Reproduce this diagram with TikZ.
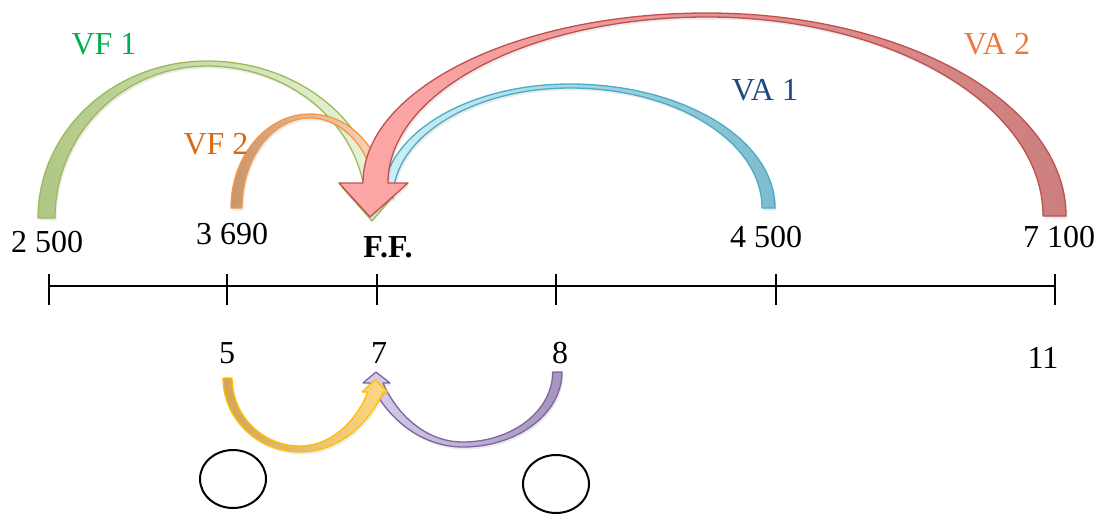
\documentclass[tikz,border=0pt]{standalone}
\usepackage{fontspec}
\setmainfont{Liberation Serif}
\usetikzlibrary{shadows,shapes.geometric}
\definecolor{gB}{HTML}{9BBB59}\definecolor{gD}{HTML}{AFC784}\definecolor{gL}{HTML}{EAF4DA}
\definecolor{oB}{HTML}{F79646}\definecolor{oD}{HTML}{C9956A}\definecolor{oL}{HTML}{FDD9BC}
\definecolor{bB}{HTML}{4BACC6}\definecolor{bD}{HTML}{7DBCCE}\definecolor{bL}{HTML}{CDEFF8}
\definecolor{rB}{HTML}{C0504D}\definecolor{rD}{HTML}{CC7F7E}\definecolor{rL}{HTML}{FFA8A8}
\definecolor{yB}{HTML}{FFC000}\definecolor{yD}{HTML}{D2A458}\definecolor{yL}{HTML}{FFD785}
\definecolor{pB}{HTML}{8064A2}\definecolor{pD}{HTML}{A494BE}\definecolor{pL}{HTML}{D8CFE8}
\definecolor{tVF1}{HTML}{00B050}\definecolor{tVF2}{HTML}{D9690E}
\definecolor{tVA1}{HTML}{1F497D}\definecolor{tVA2}{HTML}{EC763C}
\begin{document}
\begin{tikzpicture}[x=1pt,y=-1pt,
  band/.style={line width=1.3pt, line join=round,
    drop shadow={opacity=0.16, shadow xshift=1.5pt, shadow yshift=-2.5pt}},
  lbl/.style={font=\fontsize{32}{36}\selectfont, inner sep=0pt},
  tick/.style={line width=2pt},
  circ/.style={draw, ellipse, line width=2pt, minimum width=66pt, minimum height=58pt, inner sep=0pt}]
\useasboundingbox (0,0) rectangle (1102,514);

% ---- VF 1 (green)
\path[band, draw=gB, left color=gD, right color=gL]
  (38,218) arc[start angle=180,end angle=270,x radius=169,y radius=157]
  arc[start angle=270,end angle=360,x radius=173,y radius=149]
  -- (366,210) arc[start angle=360,end angle=270,x radius=159,y radius=144]
  arc[start angle=270,end angle=180,x radius=152,y radius=152] -- cycle;
\path[draw=gB, fill=gL, line width=1.3pt, line join=round] (342,187) -- (401,187) -- (372,221) -- cycle;

% ---- VF 2 (orange)
\path[band, draw=oB, left color=oD, right color=oL]
  (231,208) arc[start angle=180,end angle=270,x radius=79,y radius=94]
  arc[start angle=270,end angle=360,x radius=76,y radius=88]
  -- (376,202) arc[start angle=360,end angle=270,x radius=66,y radius=84]
  arc[start angle=270,end angle=180,x radius=68,y radius=90] -- cycle;

% ---- VA 1 (blue)
\path[band, draw=bB, left color=bL, right color=bD]
  (775,208) arc[start angle=0,end angle=-90,x radius=205,y radius=124]
  arc[start angle=-90,end angle=-180,x radius=187,y radius=114]
  -- (393,198) arc[start angle=-180,end angle=-90,x radius=177,y radius=110]
  arc[start angle=-90,end angle=0,x radius=192,y radius=120] -- cycle;

% ---- VA 2 (red, with the big head)
\path[band, draw=rB, left color=rL, right color=rD]
  (1066,216) arc[start angle=0,end angle=-90,x radius=359,y radius=203]
  arc[start angle=-90,end angle=-180,x radius=344,y radius=170]
  -- (339,183) -- (370,217) -- (408,183) -- (388,183)
  arc[start angle=-180,end angle=-90,x radius=319,y radius=166]
  arc[start angle=-90,end angle=0,x radius=336,y radius=199] -- cycle;

% ---- bottom arrows
\path[band, draw=pB, left color=pL, right color=pD]
  (562,372) arc[start angle=0,end angle=90,x radius=99,y radius=75]
  arc[start angle=90,end angle=150,x radius=107,y radius=128]
  -- (363,383) -- (376,372) -- (390,383) -- (383,383)
  arc[start angle=150,end angle=90,x radius=92,y radius=118]
  arc[start angle=90,end angle=0,x radius=90,y radius=70] -- cycle;
\path[band, draw=yB, left color=yD, right color=yL]
  (223,378) arc[start angle=180,end angle=90,x radius=77,y radius=74]
  arc[start angle=90,end angle=30,x radius=96,y radius=120]
  -- (388,392) -- (375,380) -- (362,392) -- (368,392)
  arc[start angle=30,end angle=90,x radius=78.5,y radius=108]
  arc[start angle=90,end angle=180,x radius=68,y radius=68] -- cycle;

% ---- labels of arrows
\node[lbl, text=tVF1] (vf1) at (104,44) {VF 1};
\node[lbl, text=tVF2] (vf2) at (216,144) {VF 2};
\node[lbl, text=tVA1] (va1) at (765,90) {VA 1};
\node[lbl, text=tVA2] (va2) at (997,44) {VA 2};

% ---- amounts
\node[lbl] (a1) at (47,242) {2 500};
\node[lbl] (a2) at (232,234) {3 690};
\node[lbl, font=\fontsize{32}{36}\selectfont\bfseries] (ff) at (388,247) {F.F.};
\node[lbl] (a4) at (766,237) {4 500};
\node[lbl] (a5) at (1059,237) {7 100};

% ---- axis
\foreach \n/\x in {t1/49,t2/227,t3/377,t4/556,t5/776,t6/1055}{
  \coordinate (\n) at (\x,286);
  \draw[tick] (\x,274) -- (\x,305);
}
\draw[tick] (t1) -- (t6);

% ---- periods
\node[lbl] (p5) at (227,353) {5};
\node[lbl] (p7) at (379,353) {7};
\node[lbl] (p8) at (560,353) {8};
\node[lbl] (p11) at (1043,358) {11};

% ---- circles
\node[circ] (c1) at (233,479) {};
\node[circ] (c2) at (556,484) {};
\end{tikzpicture}
\end{document}
